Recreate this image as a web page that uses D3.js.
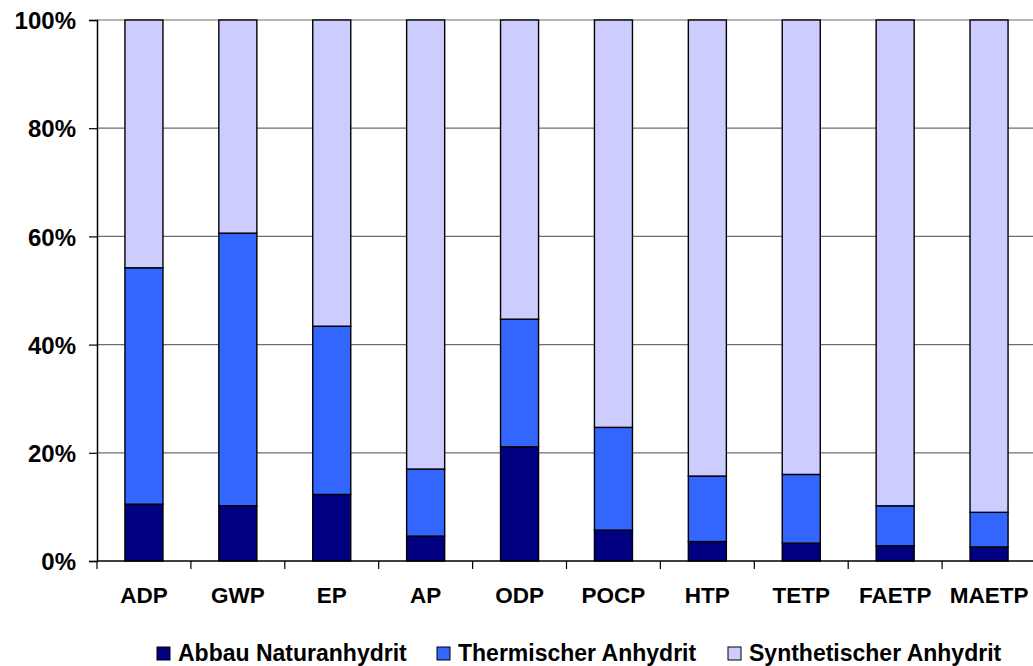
<!DOCTYPE html>
<html>
<head>
<meta charset="utf-8">
<script src="https://cdn.jsdelivr.net/npm/d3@7"></script>
<style>
  body { margin: 0; background: #fff; }
  text { font-family: "Liberation Sans", Arial, sans-serif; font-weight: bold; fill: #000; }
</style>
</head>
<body>
<div id="chart"></div>
<script>
// impact categories
const categories = ["ADP", "GWP", "EP", "AP", "ODP", "POCP", "HTP", "TETP", "FAETP", "MAETP"];
// series shares in percent (stacked to 100)
const abbauNatur = [10.5, 10.2, 12.3, 4.6, 21.1, 5.7, 3.6, 3.3, 2.8, 2.6];
const thermisch = [43.7, 50.4, 31.1, 12.4, 23.6, 19.0, 12.1, 12.7, 7.4, 6.4];
const synthetisch = categories.map((c, i) => 100 - abbauNatur[i] - thermisch[i]);
const seriesNames = ["Abbau Naturanhydrit", "Thermischer Anhydrit", "Synthetischer Anhydrit"];
const seriesColors = ["#000080", "#3366ff", "#ccccff"];
const yTicks = [0, 20, 40, 60, 80, 100];

const W = 1033, H = 666;
const margin = { top: 20, left: 97, bottom: 105 };
const plotW = 939;
const plotH = H - margin.top - margin.bottom;

const svg = d3.select("#chart").append("svg")
  .attr("width", W).attr("height", H);

const g = svg.append("g")
  .attr("transform", "translate(" + margin.left + "," + margin.top + ")");

const x = d3.scaleBand().domain(categories).range([0, plotW]).paddingInner(0.595).paddingOuter(0.2975);
const y = d3.scaleLinear().domain([0, 100]).range([plotH, 0]);

// gridlines
g.selectAll(".grid").data(yTicks.filter(t => t > 0)).enter()
  .append("line")
  .attr("x1", 0).attr("x2", W)
  .attr("y1", d => y(d)).attr("y2", d => y(d))
  .attr("stroke", "#6e6e6e").attr("stroke-width", 1.2);

const rows = categories.map((c, i) => ({
  cat: c, s0: abbauNatur[i], s1: thermisch[i], s2: synthetisch[i]
}));
const stack = d3.stack().keys(["s0", "s1", "s2"]);
const layers = stack(rows);

const layer = g.selectAll(".layer").data(layers).enter()
  .append("g")
  .attr("fill", (d, i) => seriesColors[i]);

layer.selectAll("rect").data(d => d).enter()
  .append("rect")
  .attr("x", d => x(d.data.cat))
  .attr("width", x.bandwidth())
  .attr("y", d => y(d[1]))
  .attr("height", d => y(d[0]) - y(d[1]))
  .attr("stroke", "#000")
  .attr("stroke-width", 1.4);

// y axis
const yAxis = d3.axisLeft(y).tickValues(yTicks).tickFormat(d => d + "%").tickSize(8).tickPadding(13);
const ya = g.append("g").call(yAxis);
ya.select(".domain").attr("stroke", "#000").attr("stroke-width", 1.5);
ya.selectAll(".tick line").attr("stroke", "#000").attr("stroke-width", 1.2);
ya.selectAll("text").style("font-size", "24px").attr("dy", "0.36em");

// x axis with ticks between categories
g.append("line").attr("x1", 0).attr("x2", W).attr("y1", plotH).attr("y2", plotH)
  .attr("stroke", "#000").attr("stroke-width", 1.5);
const step = x.step();
g.selectAll(".xtick").data(d3.range(categories.length + 1)).enter()
  .append("line")
  .attr("x1", i => i * step).attr("x2", i => i * step)
  .attr("y1", plotH).attr("y2", plotH + 8)
  .attr("stroke", "#000").attr("stroke-width", 1.2);
g.selectAll(".xlab").data(categories).enter()
  .append("text")
  .attr("x", d => x(d) + x.bandwidth() / 2)
  .attr("y", plotH + 42)
  .attr("text-anchor", "middle")
  .style("font-size", "22.5px")
  .text(d => d);

// legend
const legendX = [157, 437, 728];
const leg = svg.selectAll(".leg").data(seriesNames).enter()
  .append("g")
  .attr("transform", (d, i) => "translate(" + legendX[i] + ",647)");
leg.append("rect")
  .attr("width", 13).attr("height", 13)
  .attr("fill", (d, i) => seriesColors[i])
  .attr("stroke", "#000").attr("stroke-width", 1);
leg.append("text")
  .attr("x", 21).attr("y", 14)
  .style("font-size", "23px")
  .text(d => d);
</script>
</body>
</html>
